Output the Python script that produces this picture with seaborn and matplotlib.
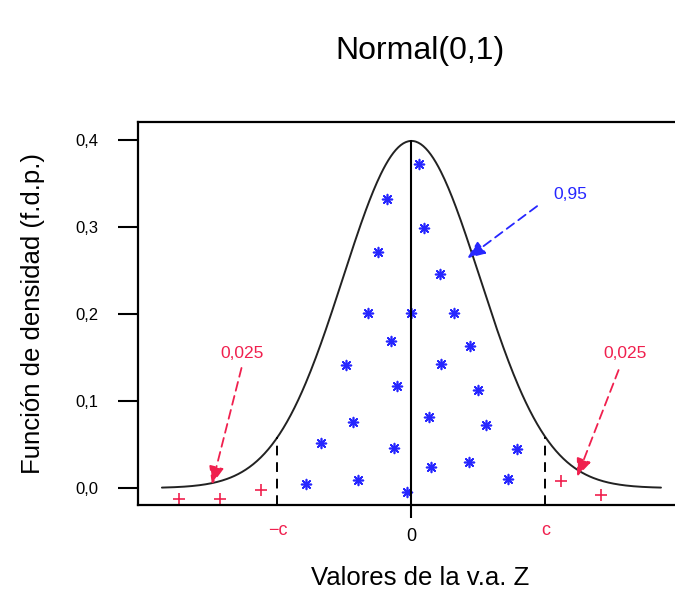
import numpy as np
import pandas as pd
import matplotlib
matplotlib.use("Agg")
import matplotlib.pyplot as plt
import matplotlib.transforms as mtransforms
import seaborn as sns

# ---- data ----
MU, SIGMA = 0.0, 1.0
C_CRIT = 1.96
curve_range = [-3.65, 3.65]

blue_x = [0.117, -0.355, 0.18, -0.487, 0.424, -0.633, 0.0, 0.619, -0.293, 0.853,
          -0.955, 0.439, -0.209, 0.976, -0.859, 0.253, 1.093, -1.316, -0.259, 1.546,
          -0.785, 0.288, 0.838, 1.414, -1.54, -0.063]
blue_y = [0.373, 0.332, 0.299, 0.271, 0.246, 0.2015, 0.2015, 0.2015, 0.169, 0.1636,
          0.141, 0.142, 0.1176, 0.1126, 0.0755, 0.0813, 0.0724, 0.0514, 0.0463, 0.0445,
          0.0092, 0.0238, 0.0302, 0.0103, 0.0046, -0.0043]

red_x = [-3.398, -2.798, -2.204, 2.184, 2.779]
red_y = [-0.0126, -0.0126, -0.002, 0.008, -0.008]

arrow_labels = ["0,025", "0,95", "0,025"]
arrow_tips = [(-2.918, 0.004), (0.815, 0.264), (2.424, 0.013)]
arrow_tails = [(-2.486, 0.138), (1.838, 0.324), (3.03, 0.1356)]
label_pos = [(-2.48, 0.155), (2.33, 0.337), (3.13, 0.155)]

ytick_vals = [0.0, 0.1, 0.2, 0.3, 0.4]
ytick_labels = ["0,0", "0,1", "0,2", "0,3", "0,4"]
xtick_labels = ["\u2212c", "0", "c"]

RED = "#f0204e"
BLUE = "#2626ff"

# ---- figure ----
sns.set_style("ticks")
plt.rcParams["font.family"] = ["Liberation Sans", "DejaVu Sans"]
plt.rcParams["text.color"] = "black"
plt.rcParams["axes.labelcolor"] = "black"
plt.rcParams["xtick.color"] = "black"
plt.rcParams["ytick.color"] = "black"

fig = plt.figure(figsize=(6.75, 5.97), dpi=100)
ax = fig.add_axes([138 / 675, 92 / 597, 564 / 675, 383 / 597])

xs = np.linspace(curve_range[0], curve_range[1], 400)
dens = np.exp(-0.5 * ((xs - MU) / SIGMA) ** 2) / (SIGMA * np.sqrt(2 * np.pi))
df_curve = pd.DataFrame({"x": xs, "y": dens})
sns.lineplot(data=df_curve, x="x", y="y", color="#222222", linewidth=1.4, ax=ax)

peak = 1 / (SIGMA * np.sqrt(2 * np.pi))
ylo, yhi = -0.0195, 0.4207
ax.plot([MU, MU], [ylo, peak], color="black", linewidth=1.5)
dc = np.exp(-0.5 * (C_CRIT / SIGMA) ** 2) / (SIGMA * np.sqrt(2 * np.pi))
for xc in (-C_CRIT, C_CRIT):
    ax.plot([xc, xc], [ylo, dc], color="black", linewidth=1.4, linestyle=(0, (5, 3.5)))

df_blue = pd.DataFrame({"x": blue_x, "y": blue_y})
sns.scatterplot(data=df_blue, x="x", y="y", marker=(8, 2, 0), s=50, color=BLUE,
                edgecolor=BLUE, linewidth=1.2, ax=ax)
df_red = pd.DataFrame({"x": red_x, "y": red_y})
sns.scatterplot(data=df_red, x="x", y="y", marker="+", s=80, color=RED,
                linewidth=1.2, ax=ax)

colors = [RED, BLUE, RED]
for lab, tip, tail, lp, col in zip(arrow_labels, arrow_tips, arrow_tails, label_pos, colors):
    ax.annotate("", xy=tip, xytext=tail,
                arrowprops=dict(arrowstyle="-|>,head_length=1.1,head_width=0.45",
                                color=col, linewidth=1.3, linestyle=(0, (5, 3)),
                                shrinkA=0, shrinkB=0))
    ax.text(lp[0], lp[1], lab, color=col, fontsize=12.5, ha="center", va="center")

ax.set_xlim(-4, 4.25)
ax.set_ylim(ylo, yhi)
ax.set_xticks([-C_CRIT, MU, C_CRIT])
ax.set_xticklabels(xtick_labels, fontsize=13)
ax.set_yticks(ytick_vals)
ax.set_yticklabels(ytick_labels, fontsize=12)
ax.tick_params(axis="y", length=14.4, width=1.5, pad=14, color="black", labelcolor="black")
ax.tick_params(axis="x", length=9.4, width=1.5, pad=7, color="black", labelcolor="black")

xt = ax.get_xticklabels()
ticks = ax.xaxis.get_major_ticks()
for i in (0, 2):
    ticks[i].tick1line.set_visible(False)
    xt[i].set_color(RED)
    xt[i].set_transform(xt[i].get_transform() +
                        mtransforms.ScaledTranslation(0, 4 / 72, fig.dpi_scale_trans))

for sp in ax.spines.values():
    sp.set_linewidth(1.6)
    sp.set_color("black")

ax.set_title("Normal(0,1)", fontsize=23, pad=45, color="black")
ax.set_xlabel("Valores de la v.a. Z", fontsize=18.5, labelpad=15, color="black")
ax.set_ylabel("Funci\u00f3n de densidad (f.d.p.)", fontsize=18.5, labelpad=22, color="black")

fig.savefig("out.png", dpi=100)
